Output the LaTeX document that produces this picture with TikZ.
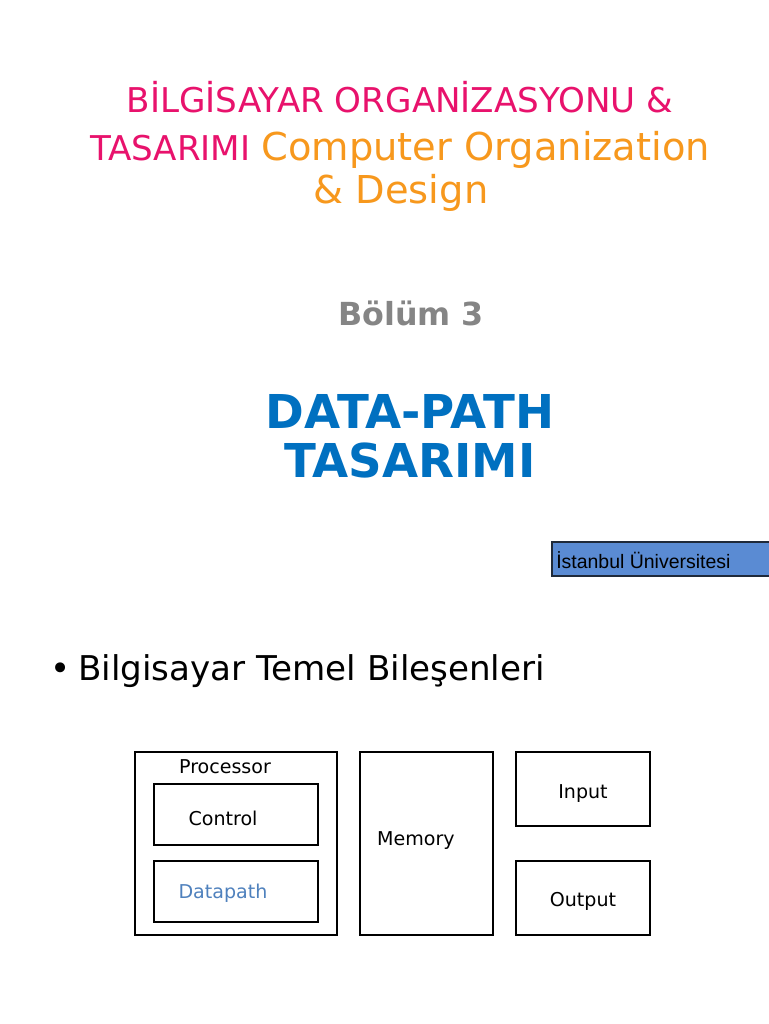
\documentclass[tikz,border=0pt]{standalone}
\usepackage{fontspec}
\setmainfont{DejaVu Sans}
\newfontfamily\arialf{Liberation Sans}
\usepackage{xcolor}
\usetikzlibrary{positioning}
\definecolor{titlepink}{HTML}{E8126C}
\definecolor{titleorg}{HTML}{F7981D}
\definecolor{subgray}{HTML}{858585}
\definecolor{headblue}{HTML}{0070C0}
\definecolor{dpblue}{HTML}{4F81BD}
\definecolor{unibox}{HTML}{5A8BD3}
\definecolor{uniedge}{HTML}{1F2A3A}
\tikzset{
  blk/.style={draw=black,line width=1.4pt,inner sep=0pt},
  lbl/.style={anchor=base,font=\fontsize{14.3}{17}\selectfont,inner sep=0pt}
}

\begin{document}
\begin{tikzpicture}[x=0.75pt,y=-0.75pt]
\useasboundingbox[fill=white] (0,0) rectangle (768,1024);
% title
\node[anchor=base,inner sep=0pt,titlepink,font=\fontsize{25.6}{30}\selectfont] (t1) at (400,113) {BİLGİSAYAR ORGANİZASYONU \&};
\node[anchor=base,inner sep=0pt,font=\fontsize{25.6}{30}\selectfont] (t2) at (400,160) {\textcolor{titlepink}{TASARIMI} \textcolor{titleorg}{\fontsize{28.8}{34}\selectfont Computer Organization}};
\node[anchor=base,inner sep=0pt,titleorg,font=\fontsize{28.8}{34}\selectfont] (t3) at (401,203) {\& Design};
\node[anchor=base,inner sep=0pt,subgray,font=\fontsize{23.8}{28}\bfseries] (ch) at (411,325) {Bölüm 3};
\node[anchor=base,inner sep=0pt,headblue,font=\fontsize{35}{40}\bfseries] (h1) at (410,428) {DATA-PATH};
\node[anchor=base,inner sep=0pt,headblue,font=\fontsize{35}{40}\bfseries] (h2) at (410,477) {TASARIMI};
% university tag
\draw[fill=unibox,draw=uniedge,line width=1.2pt] (552,542) rectangle (770,576);
\node[anchor=base west,inner sep=0pt,font=\arialf\fontsize{14.6}{17}\selectfont] (uni) at (556,568) {İstanbul Üniversitesi};
% bullet
\node[anchor=base west,inner sep=0pt,font=\fontsize{25.6}{30}\selectfont] (bul) at (50,680) {•};
\node[anchor=base west,inner sep=0pt,font=\fontsize{25.6}{30}\selectfont] (btxt) at (78,680) {Bilgisayar Temel Bileşenleri};
% components
\node[blk,minimum width=151.5pt,minimum height=137.25pt] (proc) at (236,843.5) {};
\node[blk,minimum width=123pt,minimum height=45.75pt] (ctrl) at (236,814.5) {};
\node[blk,minimum width=123pt,minimum height=45.75pt] (dpath) at (236,891.5) {};
\node[blk,minimum width=99.75pt,minimum height=137.25pt] (mem) at (426.5,843.5) {};
\node[blk,minimum width=100.5pt,minimum height=55.5pt] (inp) at (583,789) {};
\node[blk,minimum width=100.5pt,minimum height=55.5pt] (outp) at (583,898) {};
\node[lbl] (procl) at (225,773) {Processor};
\node[lbl] (ctrll) at (223,825) {Control};
\node[lbl,dpblue] (dpathl) at (223,898) {Datapath};
\node[lbl] (meml) at (416,845) {Memory};
\node[lbl] (inpl) at (583,798) {Input};
\node[lbl] (outpl) at (583,906) {Output};
\end{tikzpicture}
\end{document}
